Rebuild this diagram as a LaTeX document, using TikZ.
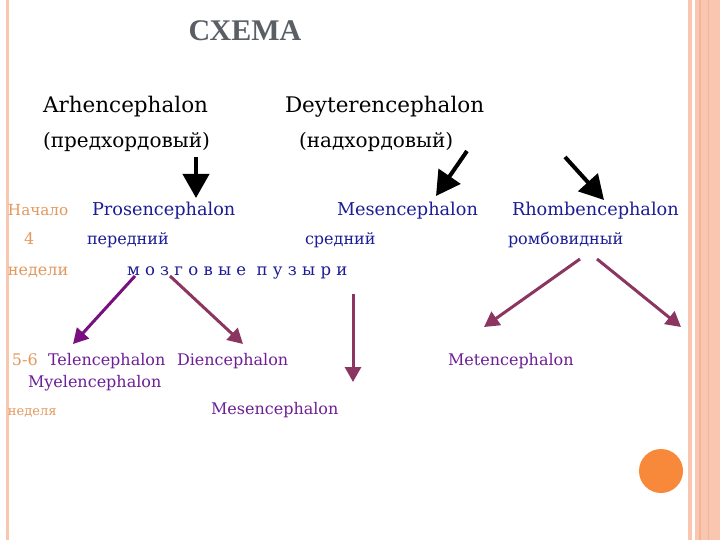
\documentclass[tikz,border=0pt]{standalone}
\usepackage{fontspec}
\setmainfont{DejaVu Serif}
\newfontfamily\titlefont{Liberation Serif}
\usetikzlibrary{arrows.meta}
\definecolor{bord}{HTML}{F9C6B0}
\definecolor{bordd}{HTML}{F3B49A}
\definecolor{orng}{HTML}{E3985C}
\definecolor{navy}{HTML}{1C1C96}
\definecolor{purp}{HTML}{6E1E96}
\definecolor{apurp}{HTML}{7A0F7F}
\definecolor{amar}{HTML}{8B3561}
\definecolor{circ}{HTML}{F9893A}
\definecolor{ttl}{HTML}{5A5F66}
\tikzset{
  txt/.style={anchor=base west, inner sep=0pt, outer sep=0pt},
  big/.style={txt, font=\fontsize{21.5}{24}\selectfont, text=black},
  bigru/.style={txt, font=\fontsize{20}{24}\selectfont, text=black},
  mid/.style={txt, font=\fontsize{17.7}{20}\selectfont, text=navy},
  sub/.style={txt, font=\fontsize{16}{18}\selectfont, text=navy},
  low/.style={txt, font=\fontsize{16}{18}\selectfont, text=purp},
  side/.style={txt, font=\fontsize{16}{18}\selectfont, text=orng},
  blk/.style={line width=4pt, draw=black, -{Triangle[length=24pt,width=26pt]}},
  pa/.style={line width=3pt, draw=apurp, -{Triangle[length=15pt,width=16pt]}},
  ma/.style={line width=3pt, draw=amar, -{Triangle[length=15pt,width=16pt]}}
}
\begin{document}
\begin{tikzpicture}[x=1pt,y=-1pt]
\useasboundingbox (0,0) rectangle (720,540);
\fill[white] (0,0) rectangle (720,540);
% borders
\fill[bord] (5.5,0) rectangle (9,540);
\fill[bord] (688,0) rectangle (692,540);
\fill[bord] (695,0) rectangle (720,540);
\fill[bordd] (699,0) rectangle (701,540);
\fill[bordd] (708,0) rectangle (709,540);
% title
\node[anchor=base, inner sep=0pt, font=\titlefont\bfseries\fontsize{30}{32}\selectfont, text=ttl] (title) at (245,41) {СХЕМА};
% row 1-2
\node[big] (arh) at (43,113) {Arhencephalon};
\node[big] (dey) at (285,113) {Deyterencephalon};
\node[bigru] (pred) at (43,148) {(предхордовый)};
\node[bigru] (nad) at (299,148) {(надхордовый)};
% row 3
\node[side, font=\fontsize{15.2}{18}\selectfont] (nach) at (8,215) {Начало};
\node[mid] (pros) at (92,215) {Prosencephalon};
\node[mid] (mes) at (337,215) {Mesencephalon};
\node[mid] (rhomb) at (512,215) {Rhombencephalon};
% row 4
\node[side] (four) at (24,244) {4};
\node[sub] (pered) at (87,244) {передний};
\node[sub] (sred) at (305,244) {средний};
\node[sub] (romb) at (508,244) {ромбовидный};
% row 5
\node[side] (ned) at (8,275) {недели};
\node[sub, font=\fontsize{16.5}{18}\selectfont] (mozg) at (127,275) {м о з г о в ы е\ \ п у з ы р и};
% row 6-8
\node[side] (fs) at (12,365) {5-6};
\node[low] (tel) at (48,365) {Telencephalon};
\node[low] (die) at (177,365) {Diencephalon};
\node[low] (met) at (448,365) {Metencephalon};
\node[low] (mye) at (28,387) {Myelencephalon};
\node[side, font=\fontsize{13}{15}\selectfont] (nedl) at (8,415) {неделя};
\node[low] (mes2) at (211,414) {Mesencephalon};
% arrow endpoints
\coordinate (a1s) at (196,157); \coordinate (a1e) at (196,198);
\coordinate (a2s) at (467,151); \coordinate (a2e) at (436,196);
\coordinate (a3s) at (565,157); \coordinate (a3e) at (604,200);
\coordinate (b1s) at (135,276); \coordinate (b1e) at (73,344);
\coordinate (b2s) at (170,276); \coordinate (b2e) at (243,344);
\coordinate (b3s) at (353,294); \coordinate (b3e) at (353,382);
\coordinate (b4s) at (580,259); \coordinate (b4e) at (484,327);
\coordinate (b5s) at (597,259); \coordinate (b5e) at (681,327);
\draw[blk] (a1s) -- (a1e);
\draw[blk] (a2s) -- (a2e);
\draw[blk] (a3s) -- (a3e);
\draw[pa] (b1s) -- (b1e);
\draw[ma] (b2s) -- (b2e);
\draw[ma] (b3s) -- (b3e);
\draw[ma] (b4s) -- (b4e);
\draw[ma] (b5s) -- (b5e);
% circle
\node[circle, fill=circ, minimum size=44pt, inner sep=0pt] (dot) at (661,471) {};
\end{tikzpicture}
\end{document}
